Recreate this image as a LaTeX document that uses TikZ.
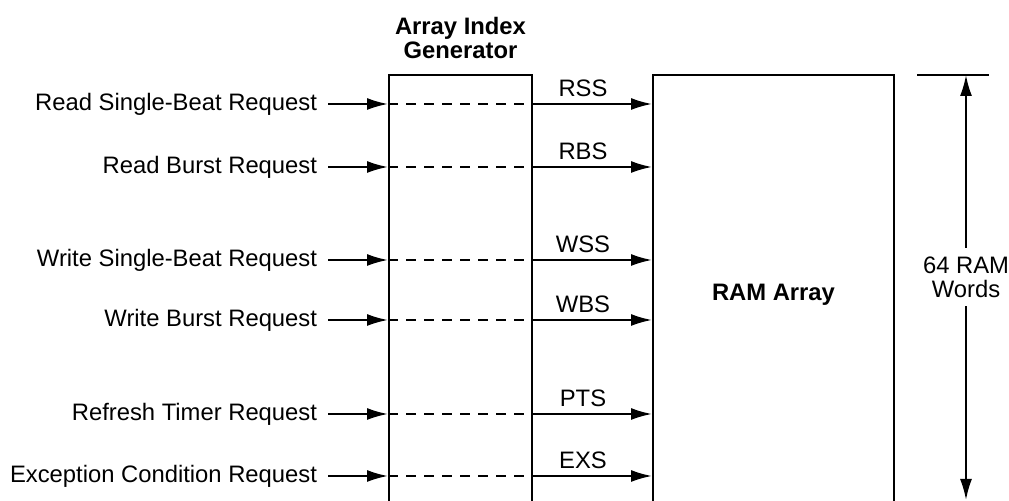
\documentclass[tikz,border=0pt]{standalone}
\usepackage{fontspec}
\setmainfont{Liberation Sans}
\usetikzlibrary{arrows.meta, positioning}

\begin{document}
\begin{tikzpicture}[
    x=0.5pt, y=-0.5pt,
    font=\fontsize{11.9}{12}\selectfont,
    line width=1pt,
    block/.style={
        rectangle,
        draw,
        minimum height=220pt,
        inner sep=0pt
    },
    heading/.style={font=\fontsize{11.9}{12}\selectfont\bfseries, align=center},
    reqlabel/.style={anchor=east, inner xsep=5pt, inner ysep=0pt},
    arrow/.style={-{Latex[length=10.5pt, width=6pt]}},
    pass/.style={dash pattern=on 5pt off 4pt}
]

\useasboundingbox (0,0) rectangle (1009,501);

% Index generator and RAM (open at the bottom edge)
\node[block, minimum width=71.5pt] (aig) at (460.5,295) {};
\node[block, minimum width=120.5pt, heading] (ram) at (773.5,295) {RAM Array};
\node[heading] (aigtitle) at (460.5,38) {Array Index\\Generator};

% Requests into the generator, selects out to the RAM
\foreach \y/\req/\sig/\nm in {104/Read Single-Beat Request/RSS/rsb,
                              167/Read Burst Request/RBS/rbr,
                              260/Write Single-Beat Request/WSS/wsb,
                              320/Write Burst Request/WBS/wbr,
                              414/Refresh Timer Request/PTS/rtr,
                              476/Exception Condition Request/EXS/ecr} {
    \node[reqlabel] (\nm) at (328,\y) {\req};
    \draw[arrow] (\nm.east) -- (\nm.east -| aig.west);
    \draw[pass] (\nm.east -| aig.west) -- (\nm.east -| aig.east);
    \draw[arrow] (\nm.east -| aig.east) -- node[above, pos=0.42] {\sig} (\nm.east -| ram.west);
}

% Depth of the RAM
\coordinate (barleft) at (917,75);
\coordinate (barright) at (989,75);
\coordinate (dimtop) at (966,75);
\coordinate (dimbot) at (966,500);
\node[align=center, inner sep=4pt] (words) at (966,277) {64 RAM\\Words};

\draw (barleft) -- (barright);
\draw[arrow] (words) -- (dimtop);
\draw[arrow] (words) -- (dimbot);

\end{tikzpicture}
\end{document}
